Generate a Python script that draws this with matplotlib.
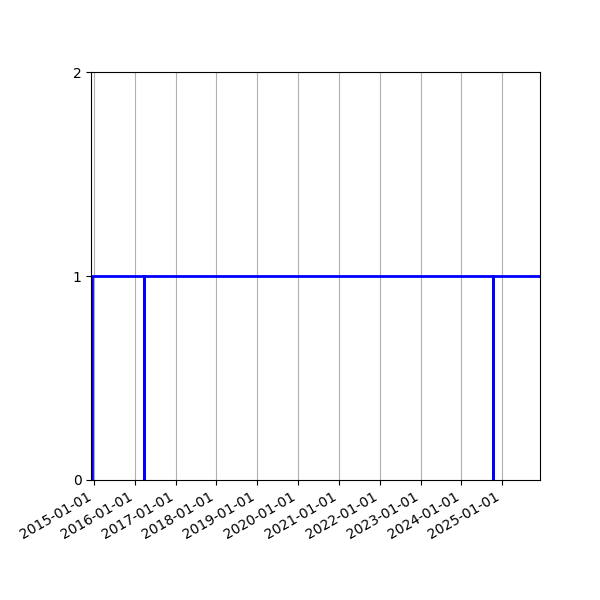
import matplotlib
matplotlib.use("Agg")
import matplotlib.pyplot as plt
import matplotlib.dates as mdates
import numpy as np
import datetime as dt

# Step-series (value changes at these dates, 'post' steps)
dates = ["2014-12-14", "2014-12-15", "2016-03-25", "2016-03-26",
         "2024-10-12", "2024-10-13", "2025-12-10"]
values = [0, 1, 0, 1, 0, 1, 1]
x_start = "2014-12-07"
x_end = "2025-12-05"
tick_years = list(range(2015, 2026))

d = [dt.datetime.strptime(s, "%Y-%m-%d") for s in dates]

fig = plt.figure(figsize=(6, 6), dpi=100)
ax = fig.add_subplot(111)
ax.step(d, values, where="post", color="blue", lw=2)
ax.set_xlim(dt.datetime.strptime(x_start, "%Y-%m-%d"), dt.datetime.strptime(x_end, "%Y-%m-%d"))
ax.set_ylim(0, 2)
ax.set_yticks([0, 1, 2])
ax.set_xticks([dt.datetime(y, 1, 1) for y in tick_years])
ax.xaxis.set_major_formatter(mdates.DateFormatter("%Y-%m-%d"))
ax.grid(True, axis="x")
fig.autofmt_xdate()
fig.subplots_adjust(left=0.152, right=0.9, top=0.88, bottom=0.2)
fig.savefig("out.png", dpi=100)
